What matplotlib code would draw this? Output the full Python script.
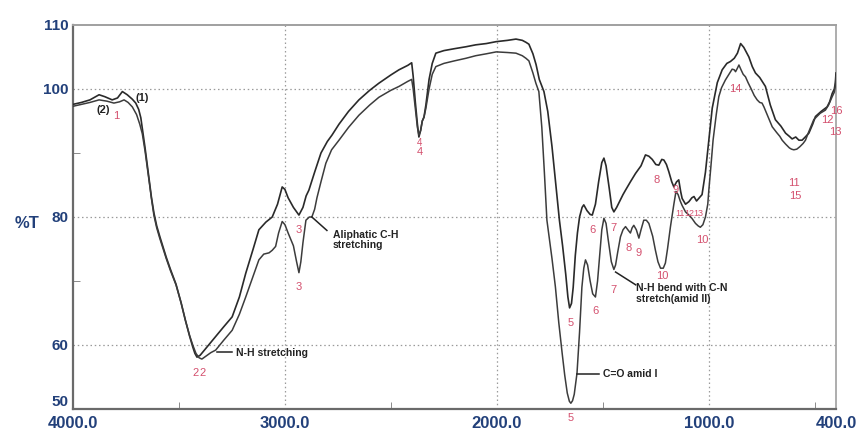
import matplotlib
matplotlib.use("Agg")
import matplotlib.pyplot as plt
from matplotlib.ticker import FixedLocator

plt.rcParams['font.family'] = ['Liberation Sans', 'DejaVu Sans']

# Spectrum (1): wavenumber (cm-1) and transmittance (%T)
wn_1 = [4000, 3960, 3920, 3877, 3850, 3815, 3790, 3767, 3744, 3720, 3704, 3690, 3680, 3670,
        3660, 3650, 3640, 3630, 3618, 3605, 3590, 3560, 3540, 3514, 3490, 3470, 3450, 3435,
        3425, 3415, 3400, 3370, 3327, 3290, 3249, 3215, 3185, 3150, 3123, 3090, 3060, 3035,
        3013, 3000, 2985, 2960, 2934, 2915, 2900, 2887, 2860, 2830, 2800, 2778, 2745, 2700,
        2651, 2600, 2557, 2500, 2462, 2420, 2402, 2395, 2385, 2375, 2368, 2360, 2352, 2344,
        2335, 2320, 2305, 2288, 2250, 2200, 2146, 2100, 2050, 2003, 1950, 1910, 1880, 1863,
        1849, 1830, 1815, 1800, 1778, 1760, 1740, 1720, 1705, 1690, 1675, 1665, 1657, 1648,
        1640, 1630, 1620, 1610, 1598, 1590, 1575, 1560, 1550, 1535, 1520, 1505, 1495, 1485,
        1470, 1458, 1448, 1435, 1420, 1405, 1393, 1370, 1346, 1320, 1299, 1283, 1267, 1250,
        1236, 1222, 1212, 1200, 1189, 1175, 1165, 1152, 1142, 1133, 1126, 1110, 1094, 1080,
        1070, 1058, 1045, 1032, 1016, 1000, 984, 960, 937, 915, 898, 880, 865, 850, 835, 811,
        795, 780, 760, 733, 710, 686, 660, 638, 620, 607, 590, 575, 560, 545, 528, 510, 497,
        470, 442, 430, 418, 408, 403, 400]
t_1 = [97.6, 97.9, 98.3, 99.1, 98.8, 98.3, 98.6, 99.6, 99.1, 98.4, 97.8, 96.8, 95.5, 93.2,
       90.8, 88.2, 85.6, 83.1, 80.6, 78.6, 76.9, 73.7, 71.8, 69.5, 66.6, 63.9, 61.4, 59.7,
       58.7, 58.1, 58.4, 59.6, 61.3, 62.8, 64.4, 67.5, 71.2, 75.0, 78.0, 79.2, 80.0, 82.0,
       84.7, 84.3, 83.0, 81.5, 80.3, 81.5, 83.3, 84.2, 87.0, 90.0, 91.8, 92.8, 94.5, 96.5,
       98.3, 99.8, 100.9, 102.2, 103.0, 103.7, 104.1, 102.0, 98.0, 94.5, 92.5, 93.5, 95.0, 95.6,
       97.5, 101.5, 104.0, 105.6, 106.0, 106.3, 106.6, 106.9, 107.1, 107.4, 107.6, 107.8, 107.6, 107.3,
       107.0, 105.5, 103.8, 101.5, 99.6, 96.5, 91.0, 84.5, 79.5, 75.5, 71.0, 67.5, 65.8, 66.5,
       69.0, 74.0, 77.5, 80.0, 81.5, 81.9, 81.0, 80.4, 80.3, 82.0, 85.5, 88.5, 89.2, 88.0,
       84.5, 81.5, 80.8, 81.5, 82.5, 83.5, 84.2, 85.5, 86.8, 88.0, 89.7, 89.5, 89.0, 88.2,
       88.1, 89.0, 88.9, 88.2, 87.1, 85.5, 84.7, 85.5, 85.8, 84.0, 82.9, 82.0, 82.4, 83.0,
       83.2, 82.5, 83.0, 83.5, 87.0, 92.0, 97.0, 101.0, 103.0, 104.0, 104.3, 104.8, 105.6, 107.1, 106.5, 105.0,
       103.5, 102.5, 101.8, 100.4, 97.5, 95.2, 94.2, 93.1, 92.6, 92.2, 92.5, 92.0, 92.0, 92.5, 93.1, 94.5, 95.7,
       96.5, 97.2, 98.0, 99.3, 100.0, 101.0, 102.5]

# Spectrum (2)
wn_2 = [4000, 3960, 3920, 3877, 3840, 3807, 3780, 3759, 3740, 3720, 3700, 3685, 3673, 3660,
        3650, 3640, 3630, 3618, 3605, 3590, 3560, 3540, 3514, 3490, 3470, 3450, 3435, 3420,
        3405, 3392, 3375, 3350, 3327, 3290, 3249, 3215, 3185, 3150, 3123, 3100, 3075, 3060,
        3044, 3030, 3013, 3000, 2985, 2960, 2945, 2934, 2925, 2915, 2901, 2885, 2873, 2860,
        2849, 2830, 2807, 2780, 2745, 2700, 2651, 2600, 2557, 2500, 2462, 2420, 2402, 2395,
        2385, 2375, 2368, 2360, 2352, 2344, 2335, 2320, 2305, 2288, 2250, 2200, 2146, 2100,
        2050, 2003, 1950, 1910, 1880, 1863, 1849, 1830, 1816, 1802, 1788, 1776, 1764, 1750,
        1740, 1724, 1708, 1692, 1680, 1668, 1658, 1651, 1643, 1635, 1622, 1610, 1599, 1590,
        1582, 1572, 1560, 1548, 1535, 1525, 1515, 1505, 1495, 1485, 1475, 1460, 1448, 1440,
        1430, 1417, 1405, 1393, 1382, 1370, 1362, 1354, 1342, 1330, 1320, 1307, 1295, 1283,
        1265, 1252, 1240, 1228, 1215, 1205, 1195, 1181, 1165, 1155, 1145, 1135, 1126, 1110,
        1094, 1080, 1063, 1050, 1040, 1028, 1016, 1005, 1000, 990, 980, 965, 953, 940, 922,
        905, 890, 880, 874, 866, 858, 848, 838, 827, 815, 800, 786, 772, 760, 749, 740, 725,
        712, 701, 680, 665, 654, 638, 620, 610, 599, 585, 570, 555, 544, 530, 515, 505, 490,
        475, 450, 435, 418, 408, 403, 400]
t_2 = [97.3, 97.6, 97.9, 98.3, 98.1, 97.8, 98.0, 98.3, 97.9, 97.2, 96.0, 94.5, 93.0, 90.3,
       87.9, 85.4, 82.9, 80.2, 78.3, 76.6, 73.5, 71.6, 69.4, 66.6, 63.9, 61.5, 60.0, 58.7,
       58.0, 57.8, 58.2, 58.8, 59.2, 60.7, 62.3, 64.8, 67.5, 70.8, 73.3, 74.2, 74.4, 74.8,
       75.4, 77.5, 79.3, 78.8, 77.5, 75.5, 73.0, 71.3, 73.0, 76.0, 79.5, 80.0, 80.0, 81.2,
       83.0, 85.5, 88.4, 90.5, 92.0, 94.0, 95.9, 97.5, 98.7, 99.8, 100.4, 101.2, 101.5, 100.0,
       97.0, 94.0, 92.8, 93.5, 95.0, 95.6, 97.0, 100.0, 102.3, 103.5, 104.0, 104.4, 104.8, 105.2,
       105.5, 105.8, 105.7, 105.6, 105.2, 104.8, 104.4, 102.5, 100.9, 99.6, 94.0, 87.0, 79.5, 76.0,
       73.5, 69.1, 63.5, 58.7, 55.3, 52.5, 51.2, 50.9, 51.3, 52.3, 55.6, 62.0, 69.0, 72.0,
       73.3, 72.5, 70.0, 68.0, 67.5, 70.0, 74.0, 78.0, 79.8, 79.0, 76.5, 73.0, 71.8, 72.5,
       74.5, 76.9, 78.0, 78.5, 78.0, 77.5, 78.3, 78.7, 78.0, 76.7, 78.0, 79.5, 79.5, 79.0,
       77.0, 74.8, 73.0, 72.0, 72.0, 72.8, 75.0, 78.5, 82.0, 84.0, 83.5, 82.5, 81.8, 80.8,
       80.3, 79.8, 79.0, 78.6, 78.4, 78.8, 80.0, 82.0, 84.2, 88.0, 92.0, 96.0, 98.8, 100.2, 101.4,
       102.3, 103.1, 103.0, 102.7, 103.2, 103.75, 103.0, 102.3, 101.9, 101.0, 100.0, 99.0, 98.3, 97.9, 97.8, 97.2, 96.0,
       95.0, 94.1, 93.2, 92.6, 92.0, 91.4, 90.8, 90.6, 90.5, 90.6, 91.0, 91.5, 92.0, 93.2, 94.4, 95.2, 95.7,
       96.2, 96.7, 97.5, 98.8, 99.5, 100.5, 102.0]

# Axis ticks
x_major = [4000, 3000, 2000, 1000, 400]
x_major_labels = ["4000.0", "3000.0", "2000.0", "1000.0", "400.0"]
x_minor = [3500, 2500, 1500, 500]
y_major = [50, 60, 80, 100, 110]
y_minor = [70, 90]
x_grid = [3000, 2000, 1000]
y_grid = [60, 80, 100]

# Peak numbers: (text, wavenumber, %T, font size)
peak_labels = [
    ("1", 3797, 95.8, 8),
    ("2", 3422, 55.6, 8), ("2", 3390, 55.6, 8),
    ("3", 2934, 78.0, 8), ("3", 2934, 69.0, 8),
    ("4", 2366, 91.6, 7), ("4", 2366, 90.2, 8),
    ("5", 1652, 63.4, 8), ("5", 1652, 48.6, 8),
    ("6", 1548, 78.0, 8), ("6", 1534, 65.3, 8),
    ("7", 1448, 78.3, 8), ("7", 1448, 68.6, 8),
    ("8", 1245, 85.8, 8), ("8", 1377, 75.2, 8), ("9", 1332, 74.4, 8),
    ("9", 1156, 84.2, 8), ("10", 1222, 70.8, 8),
    ("11", 1134, 80.5, 6.5), ("12", 1091, 80.5, 6.5), ("13", 1048, 80.5, 6.5),
    ("10", 1033, 76.4, 8),
    ("14", 873, 100.0, 8),
    ("11", 599, 85.3, 8), ("15", 590, 83.3, 8),
    ("16", 398, 96.6, 8), ("12", 440, 95.2, 8), ("13", 402, 93.3, 8),
]

# Curve tags and band assignments: (text, wavenumber, %T)
curve_tags = [("(1)", 3675, 98.6), ("(2)", 3855, 96.7)]
assignments = [
    ("N-H stretching", 3231, 58.8, [(3322, 58.9), (3250, 58.9)]),
    ("Aliphatic C-H\nstretching", 2774, 76.4, [(2873, 80.0), (2802, 77.9)]),
    ("N-H bend with C-N\nstretch(amid II)", 1342, 68.1, [(1440, 71.4), (1345, 69.4)]),
    ("C=O amid I", 1500, 55.5, [(1622, 55.5), (1520, 55.5)]),
]

navy = "#22407a"
pink = "#d4506e"

fig = plt.figure(figsize=(8.56, 4.30), dpi=100)
ax = fig.add_axes([73 / 856, 1 - 409 / 430, (836 - 73) / 856, (409 - 25) / 430])

for g in x_grid:
    ax.axvline(g, color="#9a9a9a", lw=0.9, ls=(0, (1.2, 2.2)), zorder=0)
for g in y_grid:
    ax.axhline(g, color="#9a9a9a", lw=0.9, ls=(0, (1.2, 2.2)), zorder=0)

ax.plot(wn_1, t_1, color="#2a2a2a", lw=1.2, zorder=3)
ax.plot(wn_2, t_2, color="#3c3c3c", lw=1.1, zorder=3)

ax.set_xlim(4000, 400)
ax.set_ylim(50, 110)

ax.xaxis.set_major_locator(FixedLocator(x_major))
ax.set_xticklabels(x_major_labels)
ax.xaxis.set_minor_locator(FixedLocator(x_minor))
ax.yaxis.set_major_locator(FixedLocator(y_major))
ax.set_yticklabels([str(v) for v in y_major])
ax.yaxis.set_minor_locator(FixedLocator(y_minor))

ax.tick_params(axis="both", which="both", direction="in", color="#777777")
ax.tick_params(axis="x", which="major", length=0, pad=5, labelsize=12, labelcolor=navy)
ax.tick_params(axis="x", which="minor", length=5)
ax.tick_params(axis="y", which="major", length=0, pad=3, labelsize=11, labelcolor=navy)
ax.tick_params(axis="y", which="minor", length=5)
for lab in ax.get_xticklabels() + ax.get_yticklabels():
    lab.set_fontweight("bold")
# lift the bottom y label clear of the first x label
ax.get_yticklabels()[0].set_va("bottom")

ax.spines["left"].set_color("#6a6a6a")
ax.spines["left"].set_linewidth(1.6)
ax.spines["bottom"].set_color("#6a6a6a")
ax.spines["bottom"].set_linewidth(1.6)
ax.spines["top"].set_color("#a0a0a0")
ax.spines["top"].set_linewidth(1.4)
ax.spines["right"].set_color("#a0a0a0")
ax.spines["right"].set_linewidth(1.2)

fig.text(27 / 856, 1 - 223 / 430, "%T", color=navy, fontsize=12, fontweight="bold",
         ha="center", va="center")

for txt, x, y, fs in peak_labels:
    ax.text(x, y, txt, color=pink, fontsize=fs, ha="center", va="center",
            clip_on=False, zorder=4)

for txt, x, y in curve_tags:
    ax.text(x, y, txt, color="#222222", fontsize=8, fontweight="bold",
            ha="center", va="center", zorder=4)

for txt, x, y, seg in assignments:
    (x0, y0), (x1, y1) = seg
    ax.plot([x0, x1], [y0, y1], color="#222222", lw=1.1, zorder=4)
    ax.text(x, y, txt, color="#222222", fontsize=7.5, fontweight="bold",
            ha="left", va="center", linespacing=1.1, zorder=4)

fig.savefig("out.png", dpi=100, facecolor="white")
